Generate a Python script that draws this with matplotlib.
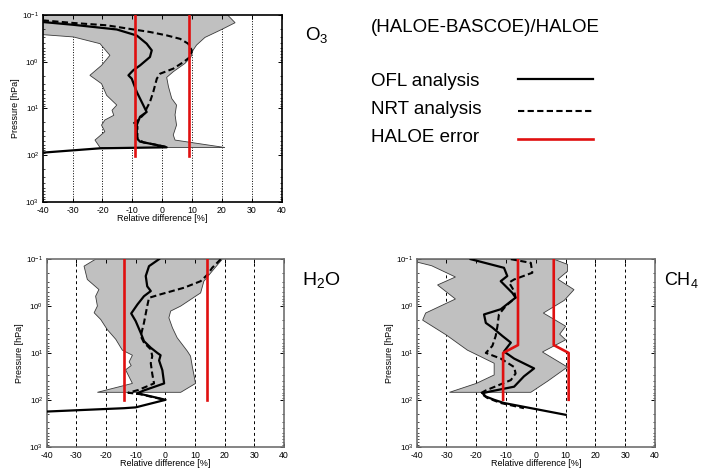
import numpy as np
import matplotlib
matplotlib.use("Agg")
import matplotlib.pyplot as plt
from matplotlib.lines import Line2D

plt.rcParams["font.family"] = ["Liberation Sans", "DejaVu Sans"]
plt.rcParams["axes.unicode_minus"] = False
plt.rcParams["mathtext.fontset"] = "custom"
plt.rcParams["mathtext.rm"] = "Liberation Sans"
plt.rcParams["mathtext.it"] = "Liberation Sans:italic"

# ---- data (x = relative difference [%], p = pressure [hPa]) ----
# O3
o3_ofl_x = [-40, -29.7, -15.2, -8.5, -5.2, -3.5, -4.1, -7.4, -9.7, -11.3, -10.2, -8.5, -6.3, -5.2,
            -7.4, -8.5, -8.5, -7.4, -1.8, 1.5, -20.8, -40]
o3_ofl_p = [0.141, 0.162, 0.204, 0.275, 0.411, 0.571, 0.794, 1.2, 1.53, 1.96, 2.31, 4.47, 8.63, 12.0,
            15.1, 22.8, 44.0, 51.8, 61.1, 68.5, 71.9, 89.1]
o3_nrt_x = [-40, -29.7, -18.6, -4.1, 1.5, 6.0, 8.7, 9.9, 9.3, 7.1, 3.7, -0.7, -1.8, -3.0, -4.1, -5.2,
            -5.8, -8.0, -9.9, -8.3, -8.3, -6.3, -0.7, 2.1]
o3_nrt_p = [0.130, 0.148, 0.166, 0.231, 0.273, 0.324, 0.411, 0.571, 0.794, 1.02, 1.41, 1.81, 2.31, 4.47,
            7.31, 10.0, 12.8, 17.8, 21.9, 24.5, 43.7, 53.7, 63.1, 68.5]
o3_min_x = [-40, -40, -29.7, -20.8, -17.5, -20.3, -24.2, -20.3, -18.6, -15.2, -16.8, -16.2, -19.2,
            -20.3, -19.2, -22.5, -20.8]
o3_min_p = [0.1, 0.263, 0.295, 0.411, 0.731, 1.2, 1.96, 2.96, 5.26, 8.51, 11.0, 14.1, 17.8, 22.9, 31.6,
            47.9, 69.2]
o3_max_x = [21.9, 24.4, 19.9, 14.3, 11.5, 10.3, 9.6, 7.6, 3.7, 1.5, 2.1, 3.2, 4.8, 4.3, 4.8, 3.7, 4.3, 21.0]
o3_max_p = [0.1, 0.146, 0.204, 0.302, 0.44, 0.571, 0.794, 1.09, 1.64, 2.17, 3.44, 6.17, 8.51, 13.8, 22.9,
            37.2, 47.9, 69.2]
o3_err_x = [9, 9]
o3_err_p = [0.1, 105]

# H2O
h2o_ofl_x = [-2.1, -5.5, -6.6, -6.1, -4.9, -7.2, -9.4, -11.5, -10.0, -8.3, -7.2, -4.9, -2.7, -1.6, -2.1,
             -1.0, -0.4, -7.2, -9.4, 0.1, -10.0, -13.9, -40]
h2o_ofl_p = [0.1, 0.141, 0.229, 0.38, 0.479, 0.617, 0.925, 1.44, 2.09, 3.72, 5.6, 7.76, 10.0, 11.2, 14.5,
             23.4, 44.7, 63.1, 72.4, 100, 145, 151, 178]
h2o_nrt_x = [18.7, 15.8, 14.2, 11.9, 6.3, -1.6, -5.5, -6.1, -7.2, -8.3, -7.2, -4.9, -4.4, -4.9, -4.4,
             -3.8, -9.1, -12.5, -8.5, -1.0]
h2o_nrt_p = [0.1, 0.153, 0.214, 0.295, 0.407, 0.562, 0.667, 1.0, 2.28, 4.37, 6.03, 8.41, 11.7, 16.6, 28.2,
             44.7, 61.7, 70.8, 75.9, 97.7]
h2o_min_x = [-23.5, -27.4, -26.3, -22.4, -23.5, -22.9, -24.0, -21.8, -19.6, -16.7, -14.5, -11.1, -12.2,
             -11.5, -13.4, -11.1, -22.9]
h2o_min_p = [0.1, 0.141, 0.271, 0.444, 0.617, 1.0, 1.39, 1.93, 3.16, 5.13, 8.71, 11.2, 15.5, 18.6, 22.9,
             44.7, 69.2]
h2o_max_x = [19.2, 15.8, 13.0, 11.9, 10.2, 5.2, 1.8, 1.2, 2.4, 4.0, 7.4, 8.5, 9.1, 10.2, 5.2]
h2o_max_p = [0.1, 0.18, 0.295, 0.525, 0.617, 1.0, 1.28, 1.78, 2.91, 4.75, 9.12, 11.7, 19.5, 44.7, 69.2]
h2o_err_x = [14, 14]
h2o_err_p = [0.1, 100]

# CH4
ch4_ofl_x = [-21.9, -10.7, -9.6, -11.8, -7.9, -6.8, -11.8, -17.4, -16.8, -14.6, -11.2, -8.4, -10.7,
             -7.3, -0.6, -4.0, -7.3, -15.2, -17.9, -16.8, -14.0, -10.7, 10.0]
ch4_ofl_p = [0.1, 0.153, 0.229, 0.295, 0.525, 0.661, 1.17, 1.51, 2.29, 2.88, 4.37, 6.03, 9.33,
             13.2, 21.4, 31.6, 52.5, 66.1, 72.4, 85.1, 100, 117, 209]
ch4_nrt_x = [-8.4, -1.7, -1.2, -7.3, -9.0, -7.3, -6.8, -10.1, -12.4, -12.9, -13.5, -14.6, -16.8, -11.8,
             -7.3, -6.8, -8.4, -16.8, -18.5, -16.3, -11.8, -4.0]
ch4_nrt_p = [0.1, 0.12, 0.195, 0.271, 0.316, 0.479, 0.661, 1.0, 1.51, 2.69, 4.37, 7.08, 10.0, 13.2,
             20.0, 27.5, 38.0, 63.1, 72.4, 91.2, 117, 151]
ch4_min_x = [-40, -40, -35, -27, -33, -27, -37, -38, -30, -23, -14, -14, -20, -29]
ch4_min_p = [0.1, 0.115, 0.138, 0.24, 0.355, 0.708, 1.41, 2.0, 4.17, 8.71, 16.6, 29.5, 44.7, 69.2]
ch4_max_x = [6, 10.6, 10.6, 7.4, 12.8, 9.5, 2.5, 10.0, 8.0, 10.0, 2.2, 10.6, 4.0, -1.7]
ch4_max_p = [0.1, 0.129, 0.182, 0.269, 0.447, 0.759, 1.41, 2.69, 3.98, 5.25, 9.55, 20.0, 39.8, 69.2]
ch4_err_x = [6, 6, 11, 11]
ch4_err_p = [0.1, 6.8, 10, 100]

xticks = [-40, -30, -20, -10, 0, 10, 20, 30, 40]
legend_labels = ["OFL analysis", "NRT analysis", "HALOE error"]

RED = "#e01010"

fig = plt.figure(figsize=(7.02, 4.70), dpi=100)


def draw_panel(rect, ofl_x, ofl_p, nrt_x, nrt_p, min_x, min_p, max_x, max_p, err_x, err_p,
               gridstyle, spine_color):
    ax = fig.add_axes(rect)
    ax.fill(np.concatenate([min_x, max_x[::-1]]), np.concatenate([min_p, max_p[::-1]]),
            facecolor="#c0c0c0", edgecolor="#3a3a3a", linewidth=0.6, zorder=1)
    ax.plot(ofl_x, ofl_p, color="black", lw=1.6, zorder=3)
    ax.plot(nrt_x, nrt_p, color="black", lw=1.5, dashes=(3, 1.6), zorder=3)
    e = np.array(err_x)
    ax.plot(e, err_p, color=RED, lw=1.9, zorder=4)
    ax.plot(-e, err_p, color=RED, lw=1.9, zorder=4)
    ax.set_yscale("log")
    ax.set_ylim(1e3, 1e-1)
    ax.set_xlim(-40, 40)
    ax.set_xticks(xticks)
    ax.set_xticklabels([str(t) for t in xticks])
    for t in xticks[1:-1]:
        ax.axvline(t, color="black", lw=0.7, linestyle=gridstyle, zorder=0.5)
    ax.tick_params(which="both", direction="in", top=True, right=True, colors="black")
    ax.tick_params(axis="x", labelsize=6.3, pad=3.2)
    ax.tick_params(axis="y", labelsize=5.8, pad=2.4)
    ax.tick_params(which="major", length=3, width=0.7)
    ax.tick_params(which="minor", length=1.5, width=0.5)
    ax.set_xlabel("Relative difference [%]", fontsize=6.5, labelpad=-1)
    ax.set_ylabel("Pressure [hPa]", fontsize=6.5, labelpad=1.5)
    for s in ax.spines.values():
        s.set_color(spine_color)
        s.set_linewidth(1.2)
    return ax


draw_panel([0.0608, 0.571, 0.3405, 0.397], o3_ofl_x, o3_ofl_p, o3_nrt_x, o3_nrt_p,
           o3_min_x, o3_min_p, o3_max_x, o3_max_p, o3_err_x, o3_err_p, ":", "black")
draw_panel([0.0665, 0.0496, 0.338, 0.399], h2o_ofl_x, h2o_ofl_p, h2o_nrt_x, h2o_nrt_p,
           h2o_min_x, h2o_min_p, h2o_max_x, h2o_max_p, h2o_err_x, h2o_err_p, (0, (3, 3)), "#707070")
draw_panel([0.5936, 0.0496, 0.3395, 0.399], ch4_ofl_x, ch4_ofl_p, ch4_nrt_x, ch4_nrt_p,
           ch4_min_x, ch4_min_p, ch4_max_x, ch4_max_p, ch4_err_x, ch4_err_p, (0, (3, 3)), "#707070")

# species labels
fig.text(305 / 702, 1 - 35 / 470, r"O$_3$", fontsize=13.5, va="center")
fig.text(302 / 702, 1 - 280 / 470, r"H$_2$O", fontsize=14, va="center")
fig.text(664 / 702, 1 - 280 / 470, r"CH$_4$", fontsize=13, va="center")

# title and legend (labels left, keys right)
fig.text(371 / 702, 1 - 27 / 470, "(HALOE-BASCOE)/HALOE", fontsize=13.5, va="center")
key_styles = [dict(color="black", lw=1.6),
              dict(color="black", lw=1.5, dashes=(3, 1.6)),
              dict(color=RED, lw=1.9)]
text_y = [82, 110, 137]
key_y = [79, 111, 139]
for lab, ty, ky, st in zip(legend_labels, text_y, key_y, key_styles):
    fig.text(371 / 702, 1 - ty / 470, lab, fontsize=13.5, va="center")
    fig.add_artist(Line2D([518 / 702, 593 / 702], [1 - ky / 470, 1 - ky / 470],
                          transform=fig.transFigure, **st))

fig.savefig("out.png", dpi=100)
